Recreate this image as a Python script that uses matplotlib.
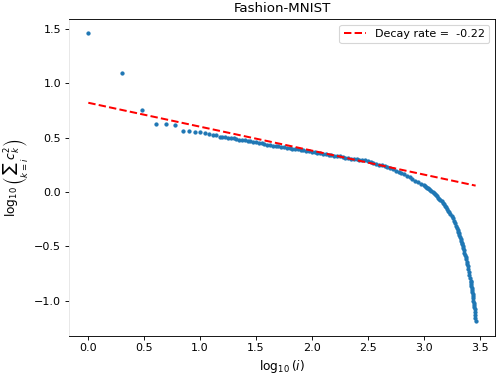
import numpy as np
import matplotlib
matplotlib.use("Agg")
import matplotlib.pyplot as plt

# first few ranks, drawn as separate dots
head_rank = [1, 2, 3, 4, 5, 6, 7, 8, 9, 10, 11, 12, 13, 14]
head_val = [1.458, 1.096, 0.749, 0.626, 0.626, 0.617, 0.562, 0.562,
            0.548, 0.548, 0.538, 0.537, 0.528, 0.524]

# dense tail (x = log10 of rank)
tail_logrank = [
    1.175, 1.200, 1.225, 1.250, 1.275, 1.300, 1.325, 1.350, 1.375, 1.400,
    1.425, 1.450, 1.475, 1.500, 1.525, 1.550, 1.575, 1.600, 1.625, 1.650,
    1.675, 1.700, 1.725, 1.750, 1.775, 1.800, 1.825, 1.850, 1.875, 1.900,
    1.925, 1.950, 1.975, 2.000, 2.025, 2.050, 2.075, 2.100, 2.125, 2.150,
    2.175, 2.200, 2.225, 2.250, 2.275, 2.300, 2.325, 2.350, 2.375, 2.400,
    2.425, 2.450, 2.475, 2.500, 2.525, 2.550, 2.575, 2.600, 2.625, 2.650,
    2.675, 2.700, 2.725, 2.750, 2.775, 2.800, 2.825, 2.850, 2.875, 2.900,
    2.925, 2.950, 2.975,
    3.00, 3.01, 3.02, 3.03, 3.04, 3.05, 3.06, 3.07, 3.08, 3.09,
    3.10, 3.11, 3.12, 3.13, 3.14, 3.15, 3.16, 3.17, 3.18, 3.19,
    3.20, 3.21, 3.22, 3.23, 3.24, 3.25, 3.26, 3.27, 3.28, 3.29,
    3.300, 3.305, 3.310, 3.315, 3.320, 3.325, 3.330, 3.335, 3.340, 3.345,
    3.350, 3.355, 3.360, 3.365, 3.370, 3.375, 3.380, 3.385, 3.390, 3.395,
    3.400, 3.405, 3.410, 3.415, 3.420,
    3.4225, 3.425, 3.4275, 3.430, 3.4325, 3.435, 3.4375, 3.440, 3.4425,
    3.445, 3.4475, 3.450, 3.4525, 3.455, 3.4575, 3.460, 3.4625, 3.465,
]
tail_val = [
    0.509, 0.506, 0.503, 0.500, 0.496, 0.492, 0.487, 0.482, 0.478, 0.474,
    0.469, 0.464, 0.460, 0.455, 0.451, 0.446, 0.441, 0.436, 0.431, 0.426,
    0.422, 0.418, 0.414, 0.410, 0.406, 0.402, 0.399, 0.396, 0.392, 0.388,
    0.383, 0.377, 0.372, 0.367, 0.364, 0.360, 0.356, 0.352, 0.346, 0.340,
    0.337, 0.333, 0.330, 0.326, 0.321, 0.316, 0.312, 0.307, 0.304, 0.300,
    0.297, 0.293, 0.289, 0.285, 0.278, 0.270, 0.261, 0.252, 0.245, 0.237,
    0.229, 0.220, 0.209, 0.197, 0.186, 0.174, 0.161, 0.148, 0.133, 0.118,
    0.104, 0.090, 0.076,
    0.062, 0.055, 0.048, 0.040, 0.033, 0.025, 0.016, 0.007, -0.002, -0.011,
    -0.020, -0.031, -0.042, -0.053, -0.064, -0.075, -0.088, -0.101, -0.114, -0.127,
    -0.140, -0.156, -0.172, -0.189, -0.205, -0.222, -0.244, -0.266, -0.289, -0.312,
    -0.335, -0.350, -0.366, -0.382, -0.398, -0.415, -0.432, -0.449, -0.466, -0.483,
    -0.500, -0.519, -0.538, -0.558, -0.578, -0.598, -0.619, -0.640, -0.660, -0.685,
    -0.710, -0.736, -0.762, -0.788, -0.815,
    -0.832, -0.850, -0.868, -0.886, -0.904, -0.922, -0.941, -0.960, -0.980,
    -1.000, -1.020, -1.040, -1.060, -1.080, -1.105, -1.130, -1.160, -1.190,
]

# fitted power law
fit_intercept = 0.82
fit_slope = -0.22

x = np.concatenate([np.log10(head_rank), tail_logrank])
y = np.concatenate([head_val, tail_val])

fig = plt.figure(figsize=(6.2, 4.675), dpi=80)
ax = fig.add_axes([0.139, 0.1024, 0.859, 0.8468])

ax.scatter(x, y, s=8, color='C0')
xfit = np.array([x.min(), x.max()])
ax.plot(xfit, fit_intercept + fit_slope * xfit, 'r--', lw=1.8,
        label='Decay rate =  -0.22')

ax.spines['left'].set_color('#e6e6e6')
ax.set_title('Fashion-MNIST')
ax.set_xlabel(r'$\log_{10}(i)$', fontsize=11)
ax.set_ylabel(r'$\log_{10}\left(\sum_{k=i} c_k^2\right)$', fontsize=11,
              labelpad=4)
ax.legend(loc='upper right')

fig.savefig('out.png', dpi=80)
